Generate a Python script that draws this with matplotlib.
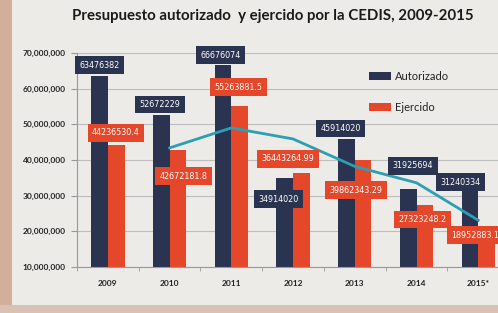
import matplotlib
matplotlib.use("Agg")
import matplotlib.pyplot as plt
import numpy as np
from matplotlib.patches import Rectangle
from matplotlib.ticker import FuncFormatter

years = ["2009", "2010", "2011", "2012", "2013", "2014", "2015*"]
autorizado = [63476382, 52672229, 66676074, 34914020, 45914020, 31925694, 31240334]
ejercido = [44236530.4, 42672181.8, 55263881.5, 36443264.99, 39862343.29, 27323248.2, 18952883.1]
# teal trend line (2-period moving average of Ejercido), 2010-2015
trend_years = ["2010", "2011", "2012", "2013", "2014", "2015*"]
trend = [43.4e6, 49.0e6, 45.9e6, 38.2e6, 33.6e6, 23.1e6]

# label placement offsets (category units, value units)
aut_dx = [-0.13, -0.16, -0.18, -0.24, -0.23, -0.06, -0.29]
aut_dy = [3.1e6, 2.9e6, 2.7e6, -5.9e6, 2.9e6, 6.4e6, 2.5e6]
eje_dx = [0.13, 0.23, 0.11, -0.08, 0.02, 0.10, -0.05]
eje_dy = [3.4e6, -7.2e6, 5.1e6, 3.9e6, -8.3e6, -4.0e6, 0.0]

NAVY = "#2a3350"
RED = "#e5472b"
TEAL = "#2b9fb3"
BG = "#ecebe7"

W, H = 498, 313
fig = plt.figure(figsize=(W / 100, H / 100), dpi=100, facecolor=BG)

# photo border strips
fig.patches.append(Rectangle((0, 0), 12 / W, 1, transform=fig.transFigure,
                             facecolor="#d3ae9b", edgecolor="none", zorder=0))
fig.patches.append(Rectangle((0, 0), 1, 8 / H, transform=fig.transFigure,
                             facecolor="#d8c2b4", edgecolor="none", zorder=0))

ax = fig.add_axes([77 / W, 1 - 267 / H, 434 / W, (267 - 53) / H])
ax.set_facecolor(BG)

x = np.arange(len(years))
bw = 0.27
ax.bar(x - bw / 2, autorizado, width=bw, color=NAVY, label="Autorizado", zorder=2)
ax.bar(x + bw / 2, ejercido, width=bw, color=RED, label="Ejercido", zorder=2)

tx = [years.index(t) for t in trend_years]
ax.plot(tx, trend, color=TEAL, lw=2.0, zorder=3)

def fmt(v):
    return f"{v:.10g}"

for i in range(len(years)):
    ax.text(x[i] + aut_dx[i], autorizado[i] + aut_dy[i], fmt(autorizado[i]),
            ha="center", va="center", color="white", fontsize=5.8,
            family="DejaVu Sans", zorder=5,
            bbox=dict(boxstyle="square,pad=0.55", facecolor=NAVY, edgecolor="none"))
    ax.text(x[i] + eje_dx[i], ejercido[i] + eje_dy[i], fmt(ejercido[i]),
            ha="center", va="center", color="white", fontsize=5.8,
            family="DejaVu Sans", zorder=5, clip_on=False,
            bbox=dict(boxstyle="square,pad=0.55", facecolor=RED, edgecolor="none"))

ax.set_xlim(-0.47, 6.53)
ax.set_ylim(10e6, 70e6)
ax.set_yticks(np.arange(10e6, 70e6 + 1, 10e6))
ax.yaxis.set_major_formatter(FuncFormatter(lambda v, p: f"{v:,.0f}"))
ax.set_xticks(x)
ax.set_xticklabels(years)
ax.set_xticks(np.arange(-0.5, 7, 1), minor=True)
ax.tick_params(axis="x", which="major", length=0, pad=9)
ax.tick_params(axis="x", which="minor", length=3, color="#999999")
ax.tick_params(axis="y", length=4, color="#999999", pad=4)
for lab in ax.get_xticklabels() + ax.get_yticklabels():
    lab.set_fontsize(6)
    lab.set_fontweight("bold")
    lab.set_color("#222222")
    lab.set_family("Lato")
ax.grid(axis="y", color="#bdbdbd", lw=0.8, zorder=0)
for s in ["top", "right"]:
    ax.spines[s].set_visible(False)
ax.spines["left"].set_color("#999999")
ax.spines["bottom"].set_color("#999999")

fig.text(273 / W, 1 - 16 / H, "Presupuesto autorizado  y ejercido por la CEDIS, 2009-2015",
         ha="center", va="center", fontsize=10.8, fontweight="bold", family="Lato",
         color="#1a1a1a")

fig.legend(loc="upper left", bbox_to_anchor=(359 / W, 1 - 61 / H), frameon=False,
           prop=dict(family="Lato", size=8), handlelength=2.0, handleheight=0.8,
           labelspacing=1.8, handletextpad=0.3, labelcolor="#222222")

fig.savefig("out.png", dpi=100, facecolor=BG)
